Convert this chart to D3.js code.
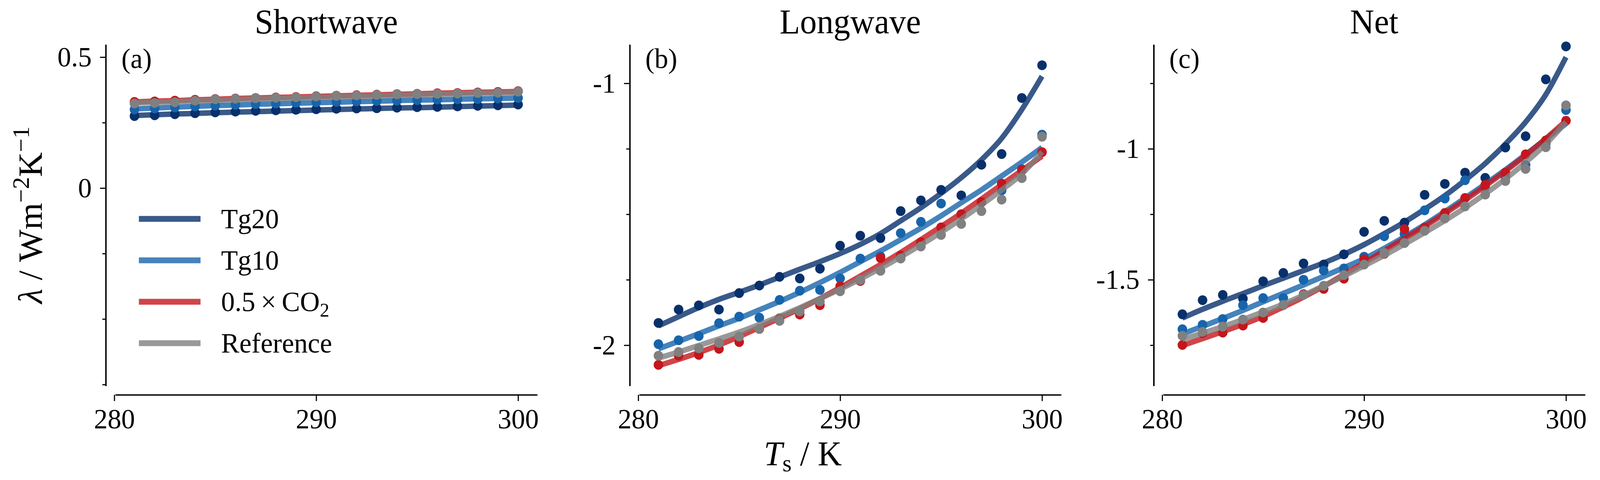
<!DOCTYPE html>
<html>
<head>
<meta charset="utf-8">
<script src="https://cdn.jsdelivr.net/npm/d3@7"></script>
<style>
  html, body { margin: 0; padding: 0; background: white; overflow: hidden; }
  svg { display: block; }
  text { font-family: "Liberation Serif", "Times New Roman", "DejaVu Serif", serif; fill: black; }
</style>
</head>
<body>
<div id="chart"></div>
<script>
// surface temperature (K)
const temps = [281, 282, 283, 284, 285, 286, 287, 288, 289, 290, 291, 292, 293, 294, 295, 296, 297, 298, 299, 300];

const seriesNames = ["Tg20", "Tg10", "0.5×CO2", "Reference"];
const panelTitles = ["Shortwave", "Longwave", "Net"];
const panelLetters = ["(a)", "(b)", "(c)"];
const xTicks = [280, 290, 300];

// shortwave feedback, points and fitted curves
const swTg20 = [0.275, 0.278, 0.282, 0.286, 0.289, 0.292, 0.295, 0.297, 0.299, 0.301, 0.303, 0.304, 0.305, 0.307, 0.309, 0.310, 0.312, 0.314, 0.316, 0.319];
const swTg20Fit = [0.277, 0.280, 0.283, 0.285, 0.288, 0.290, 0.292, 0.294, 0.296, 0.298, 0.300, 0.302, 0.304, 0.306, 0.307, 0.309, 0.311, 0.313, 0.315, 0.317];
const swTg10 = [0.300, 0.304, 0.308, 0.312, 0.315, 0.318, 0.321, 0.323, 0.326, 0.328, 0.329, 0.331, 0.333, 0.334, 0.336, 0.338, 0.339, 0.340, 0.342, 0.344];
const swTg10Fit = [0.302, 0.306, 0.309, 0.312, 0.315, 0.317, 0.320, 0.322, 0.324, 0.326, 0.328, 0.330, 0.332, 0.334, 0.336, 0.337, 0.339, 0.341, 0.342, 0.344];
const swCO2 = [0.329, 0.331, 0.334, 0.337, 0.340, 0.342, 0.344, 0.346, 0.348, 0.351, 0.353, 0.355, 0.357, 0.359, 0.360, 0.362, 0.363, 0.365, 0.367, 0.370];
const swCO2Fit = [0.329, 0.332, 0.334, 0.337, 0.339, 0.342, 0.344, 0.346, 0.348, 0.350, 0.352, 0.354, 0.356, 0.358, 0.360, 0.362, 0.364, 0.366, 0.367, 0.369];
const swRef = [0.323, 0.325, 0.328, 0.334, 0.339, 0.341, 0.343, 0.345, 0.347, 0.350, 0.352, 0.354, 0.356, 0.358, 0.359, 0.360, 0.361, 0.363, 0.364, 0.368];
const swRefFit = [0.325, 0.328, 0.330, 0.333, 0.335, 0.338, 0.340, 0.342, 0.344, 0.346, 0.348, 0.350, 0.352, 0.354, 0.356, 0.358, 0.360, 0.362, 0.363, 0.365];

// longwave
const lwTg20 = [-1.915, -1.864, -1.848, -1.864, -1.801, -1.772, -1.739, -1.745, -1.708, -1.620, -1.582, -1.591, -1.488, -1.447, -1.407, -1.428, -1.311, -1.270, -1.056, -0.931];
const lwTg20Fit = [-1.926, -1.891, -1.856, -1.825, -1.798, -1.770, -1.740, -1.710, -1.681, -1.650, -1.615, -1.574, -1.525, -1.475, -1.420, -1.360, -1.292, -1.210, -1.100, -0.973];
const lwTg10 = [-1.996, -1.981, -1.965, -1.916, -1.891, -1.895, -1.827, -1.792, -1.789, -1.745, -1.669, -1.661, -1.572, -1.529, -1.459, -1.500, -1.455, -1.409, -1.328, -1.196];
const lwTg10Fit = [-2.014, -1.985, -1.956, -1.926, -1.897, -1.865, -1.833, -1.798, -1.761, -1.722, -1.681, -1.640, -1.597, -1.553, -1.506, -1.456, -1.407, -1.354, -1.301, -1.245];
const lwCO2 = [-2.075, -2.040, -2.037, -2.014, -1.988, -1.938, -1.897, -1.883, -1.847, -1.775, -1.755, -1.667, -1.658, -1.607, -1.550, -1.500, -1.453, -1.383, -1.331, -1.263];
const lwCO2Fit = [-2.078, -2.054, -2.028, -1.999, -1.967, -1.932, -1.897, -1.861, -1.822, -1.780, -1.736, -1.692, -1.646, -1.597, -1.547, -1.496, -1.442, -1.387, -1.333, -1.278];
const lwRef = [-2.040, -2.026, -2.012, -1.991, -1.967, -1.938, -1.907, -1.871, -1.833, -1.794, -1.751, -1.716, -1.669, -1.623, -1.579, -1.537, -1.488, -1.444, -1.362, -1.204];
const lwRefFit = [-2.049, -2.026, -2.001, -1.976, -1.950, -1.921, -1.890, -1.857, -1.822, -1.786, -1.747, -1.706, -1.663, -1.617, -1.569, -1.518, -1.464, -1.407, -1.346, -1.262];

// net
const netTg20 = [-1.632, -1.578, -1.558, -1.572, -1.506, -1.474, -1.438, -1.442, -1.403, -1.317, -1.275, -1.282, -1.176, -1.134, -1.091, -1.111, -0.995, -0.952, -0.735, -0.609];
const netTg20Fit = [-1.646, -1.613, -1.582, -1.553, -1.523, -1.494, -1.465, -1.436, -1.403, -1.366, -1.324, -1.280, -1.231, -1.179, -1.120, -1.056, -0.982, -0.898, -0.793, -0.650];
const netTg10 = [-1.689, -1.672, -1.650, -1.597, -1.570, -1.570, -1.500, -1.465, -1.457, -1.412, -1.334, -1.325, -1.235, -1.190, -1.120, -1.146, -1.109, -1.062, -0.980, -0.852];
const netTg10Fit = [-1.707, -1.678, -1.648, -1.617, -1.584, -1.552, -1.520, -1.487, -1.454, -1.420, -1.380, -1.336, -1.290, -1.240, -1.188, -1.135, -1.080, -1.022, -0.963, -0.904];
const netCO2 = [-1.749, -1.704, -1.702, -1.675, -1.646, -1.597, -1.555, -1.535, -1.496, -1.422, -1.401, -1.307, -1.301, -1.245, -1.188, -1.138, -1.091, -1.021, -0.968, -0.893];
const netCO2Fit = [-1.751, -1.725, -1.698, -1.670, -1.640, -1.604, -1.566, -1.525, -1.480, -1.436, -1.390, -1.343, -1.296, -1.247, -1.196, -1.142, -1.085, -1.025, -0.961, -0.893];
const netRef = [-1.714, -1.699, -1.679, -1.652, -1.625, -1.596, -1.558, -1.523, -1.482, -1.442, -1.398, -1.360, -1.313, -1.266, -1.220, -1.175, -1.123, -1.077, -0.994, -0.834];
const netRefFit = [-1.728, -1.704, -1.679, -1.652, -1.623, -1.593, -1.559, -1.523, -1.486, -1.447, -1.407, -1.364, -1.320, -1.274, -1.225, -1.172, -1.115, -1.052, -0.982, -0.898];

// y axis limits and ticks per panel
const yDomains = [[-0.755, 0.548], [-2.155, -0.852], [-1.905, -0.602]];
const yMajor = [[0, 0.5], [-2, -1], [-1.5, -1]];
const yMinor = [[-0.75, -0.5, -0.25, 0.25], [-1.75, -1.5, -1.25], [-1.75, -1.25, -0.75]];

const colors = ["#08306b", "#1764ab", "#c4161c", "#808080"];

const panels = [
    {points: [swTg20, swTg10, swCO2, swRef], fits: [swTg20Fit, swTg10Fit, swCO2Fit, swRefFit]},
    {points: [lwTg20, lwTg10, lwCO2, lwRef], fits: [lwTg20Fit, lwTg10Fit, lwCO2Fit, lwRefFit]},
    {points: [netTg20, netTg10, netCO2, netRef], fits: [netTg20Fit, netTg10Fit, netCO2Fit, netRefFit]}
];

// viewBox stretched to the window so the figure fills it edge to edge
const svg = d3.select("#chart")
    .append("svg")
    .attr("viewBox", "0 0 4205 1228")
    .attr("preserveAspectRatio", "none")
    .attr("width", "100vw")
    .attr("height", "100vh");

const lefts = [303, 1680, 3057];
const plotW = 1109, plotH = 873, plotTop = 114;
const spineOffX = 25, spineOffY = 23;

function styleAxis(g) {
    g.select(".domain").attr("stroke", "black").attr("stroke-width", 3.5);
    g.selectAll(".tick line").attr("stroke", "black").attr("stroke-width", 3);
    g.selectAll(".tick text")
        .style("font-family", "Liberation Serif, Times New Roman, serif")
        .style("font-size", "72px")
        .attr("fill", "black");
}

panels.forEach(function(p, k) {
    const g = svg.append("g").attr("transform", "translate(" + lefts[k] + "," + plotTop + ")");

    const x = d3.scaleLinear().domain([280.05, 300.95]).range([0, plotW]);
    const y = d3.scaleLinear().domain(yDomains[k]).range([plotH, 0]);

    // x axis, pushed down a little like the reference
    const xa = g.append("g")
        .attr("transform", "translate(0," + (plotH + spineOffY) + ")")
        .call(d3.axisBottom(x).tickValues(xTicks).tickSize(16).tickSizeOuter(0).tickPadding(19).tickFormat(d => String(d)));
    styleAxis(xa);

    // y axis: minor ticks first, then labelled ticks
    const ym = g.append("g")
        .attr("transform", "translate(" + (-spineOffX) + ",0)")
        .call(d3.axisLeft(y).tickValues(yMinor[k]).tickSize(9).tickSizeOuter(0).tickFormat(""));
    styleAxis(ym);
    const ya = g.append("g")
        .attr("transform", "translate(" + (-spineOffX) + ",0)")
        .call(d3.axisLeft(y).tickValues(yMajor[k]).tickSize(15).tickSizeOuter(0).tickPadding(22).tickFormat(d => String(d)));
    styleAxis(ya);

    g.append("text")
        .attr("x", plotW / 2)
        .attr("y", 85 - plotTop)
        .attr("text-anchor", "middle")
        .style("font-size", "88px")
        .text(panelTitles[k]);

    g.append("text")
        .attr("x", 16)
        .attr("y", 60)
        .style("font-size", "72px")
        .text(panelLetters[k]);

    const line = d3.line()
        .x((d, i) => x(temps[i]))
        .y(d => y(d))
        .curve(d3.curveMonotoneX);

    p.fits.forEach(function(fit, s) {
        g.append("path")
            .datum(fit)
            .attr("d", line)
            .attr("fill", "none")
            .attr("stroke", colors[s])
            .attr("stroke-opacity", 0.8)
            .attr("stroke-width", 14);

        g.selectAll(".dot" + s)
            .data(p.points[s])
            .enter()
            .append("circle")
            .attr("class", "dot" + s)
            .attr("cx", (d, i) => x(temps[i]))
            .attr("cy", d => y(d))
            .attr("r", 12.5)
            .style("fill", colors[s]);
    });
});

// legend inside panel (a)
seriesNames.forEach(function(name, i) {
    const ly = 560 + i * 106;
    svg.append("line")
        .attr("x1", 365).attr("x2", 527)
        .attr("y1", ly).attr("y2", ly)
        .attr("stroke", colors[i])
        .attr("stroke-opacity", 0.8)
        .attr("stroke-width", 15);
    const t = svg.append("text")
        .attr("x", 581)
        .attr("y", ly + 24)
        .style("font-size", "72px");
    if (name === "0.5×CO2") {
        t.append("tspan").text("0.5\u2009×\u2009CO");
        t.append("tspan").attr("dy", 14).style("font-size", "50px").text("2");
    } else {
        t.text(name);
    }
});

// y label
const yl = svg.append("text")
    .attr("transform", "translate(110,550) rotate(-90)")
    .attr("text-anchor", "middle")
    .style("font-size", "88px");
yl.append("tspan").style("font-style", "italic").text("λ");
yl.append("tspan").text(" / Wm");
yl.append("tspan").attr("dy", -34).style("font-size", "62px").text("−2");
yl.append("tspan").attr("dy", 34).text("K");
yl.append("tspan").attr("dy", -34).style("font-size", "62px").text("−1");

// x label, centred on the figure
const xl = svg.append("text")
    .attr("x", 2110)
    .attr("y", 1190)
    .attr("text-anchor", "middle")
    .style("font-size", "88px");
xl.append("tspan").style("font-style", "italic").text("T");
xl.append("tspan").attr("dy", 16).style("font-size", "62px").text("s");
xl.append("tspan").attr("dy", -16).text(" / K");
</script>
</body>
</html>
